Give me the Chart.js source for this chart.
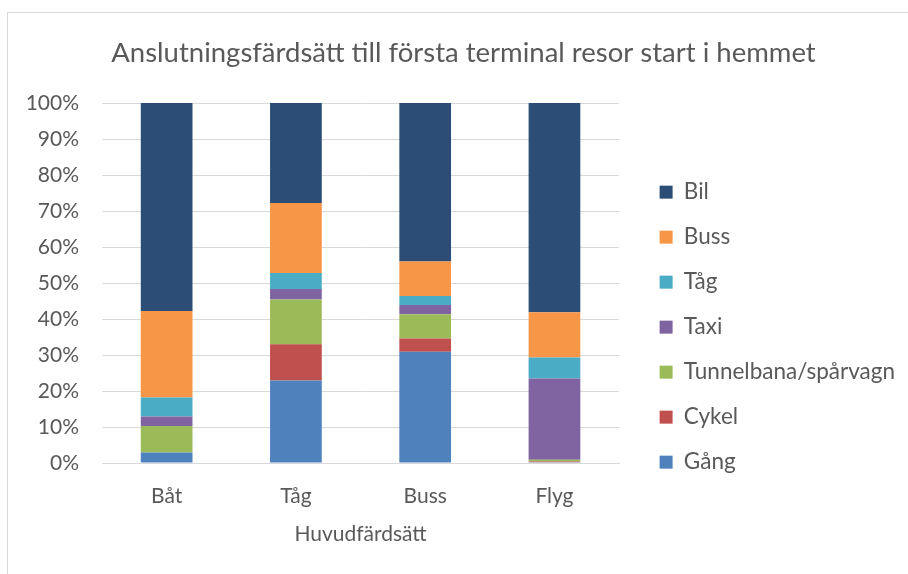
<!DOCTYPE html>
<html>
<head>
<meta charset="utf-8">
<script src="https://cdn.jsdelivr.net/npm/chart.js@4.4.1/dist/chart.umd.min.js"></script>
<style>
  body { margin: 0; background: #fff; overflow: hidden; }
  #wrap { position: absolute; left: 7px; top: 12px; border-left: 1px solid #d9d9d9; border-top: 1px solid #d9d9d9; }
  canvas { display: block; }
</style>
</head>
<body>
<div id="wrap"><canvas id="terminal-chart" width="900" height="561"></canvas></div>
<script>
// Huvudfärdsätt (main mode)
var categories = ["Båt", "Tåg", "Buss", "Flyg"];

// share per connection mode, %
var gang   = [2.9, 22.9, 30.9, 0.2];
var cykel  = [0.0, 10.1, 3.7, 0.2];
var tunnel = [7.4, 12.4, 6.7, 0.5];
var taxi   = [2.6, 2.9, 2.6, 22.6];
var tag    = [5.3, 4.5, 2.5, 5.8];
var buss   = [24.0, 19.4, 9.6, 12.6];
var bil    = [57.8, 27.8, 44.0, 58.1];

var yTicks = [0, 10, 20, 30, 40, 50, 60, 70, 80, 90, 100];

var textColor = "#595959";
var fontFam = "Lato, 'Open Sans', sans-serif";

var ctx = document.getElementById('terminal-chart');
if (ctx != null) {
    var chart = new Chart(ctx.getContext('2d'), {
        type: 'bar',
        data: {
            labels: categories,
            datasets: [
                { label: 'Gång', data: gang, backgroundColor: "#4f81bd" },
                { label: 'Cykel', data: cykel, backgroundColor: "#c0504d" },
                { label: 'Tunnelbana/spårvagn', data: tunnel, backgroundColor: "#9bbb59" },
                { label: 'Taxi', data: taxi, backgroundColor: "#8064a2" },
                { label: 'Tåg', data: tag, backgroundColor: "#4bacc6" },
                { label: 'Buss', data: buss, backgroundColor: "#f79646" },
                { label: 'Bil', data: bil, backgroundColor: "#2c4d75" }
            ]
        },
        options: {
            responsive: false,
            animation: false,
            datasets: { bar: { barPercentage: 0.4, categoryPercentage: 1.0 } },
            layout: { padding: { left: 14, right: 3, top: 0, bottom: 0 } },
            plugins: {
                title: {
                    display: true,
                    text: 'Anslutningsfärdsätt till första terminal resor start i hemmet',
                    color: textColor,
                    font: { family: fontFam, size: 27.5, weight: 'normal' },
                    padding: { top: 24, bottom: 33 }
                },
                legend: {
                    position: 'right',
                    align: 'start',
                    reverse: true,
                    maxWidth: 400,
                    title: { display: true, text: ' ', font: { size: 12 }, padding: { top: 131, bottom: 0 } },
                    labels: {
                        color: textColor,
                        font: { family: fontFam, size: 22.5 },
                        boxWidth: 13,
                        boxHeight: 13,
                        padding: 22.5
                    }
                },
                tooltip: { enabled: false }
            },
            scales: {
                x: {
                    stacked: true,
                    grid: { display: false },
                    border: { color: "#d9d9d9" },
                    ticks: { color: textColor, font: { family: fontFam, size: 21 }, padding: 13 },
                    title: {
                        display: true,
                        text: 'Huvudfärdsätt',
                        color: textColor,
                        font: { family: fontFam, size: 21 },
                        padding: { top: 0, bottom: 27 }
                    },
                    afterFit: function (s) { s.height = 111; }
                },
                y: {
                    stacked: true,
                    min: 0,
                    max: 100,
                    grid: { color: "#d9d9d9", drawTicks: false },
                    border: { display: false },
                    afterBuildTicks: function (s) { s.ticks = yTicks.map(function (v) { return { value: v }; }); },
                    ticks: {
                        color: textColor,
                        font: { family: fontFam, size: 21 },
                        padding: 23,
                        callback: function (v) { return v + '%'; }
                    },
                    afterFit: function (s) { s.width = 80; }
                },
                yR: {
                    position: 'right',
                    display: true,
                    grid: { display: false },
                    border: { display: false },
                    ticks: { display: false },
                    afterFit: function (s) { s.width = 18; }
                }
            }
        }
    });
}
</script>
</body>
</html>
